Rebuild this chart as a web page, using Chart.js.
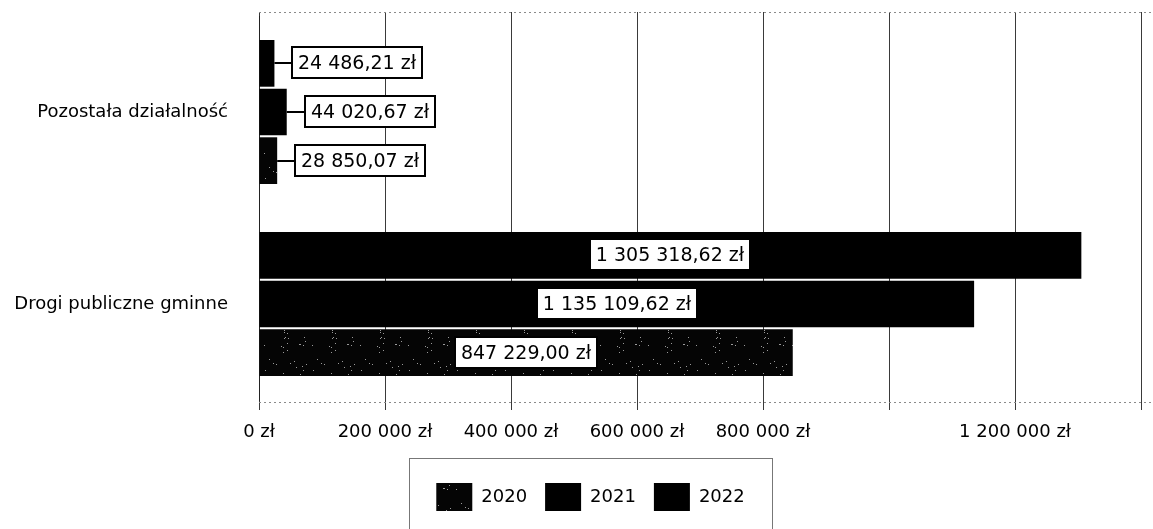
<!DOCTYPE html>
<html>
<head>
<meta charset="utf-8">
<script src="https://cdn.jsdelivr.net/npm/chart.js@4/dist/chart.umd.min.js"></script>
<style>
  html, body { margin: 0; padding: 0; background: #fff; }
  #wrap { width: 1153px; height: 529px; }
</style>
</head>
<body>
<div id="wrap"><canvas id="c" width="1153" height="529"></canvas></div>
<script>
// Wydatki wg rozdziałów (zł)
const categories = ['Pozostała działalność', 'Drogi publiczne gminne'];
const years = ['2022', '2021', '2020'];
const values2022 = [24486.21, 1305318.62];
const values2021 = [44020.67, 1135109.62];
const values2020 = [28850.07, 847229.00];
const xTickLabels = ['0 zł', '200 000 zł', '400 000 zł', '600 000 zł', '800 000 zł', '', '1 200 000 zł', ''];

const FONT = '"DejaVu Sans", Verdana, sans-serif';

function formatPLN(v) {
  const parts = v.toFixed(2).split('.');
  return parts[0].replace(/\B(?=(\d{3})+(?!\d))/g, ' ') + ',' + parts[1] + ' zł';
}

// Dark fill with light flecks used for the 2020 series
function fleckPattern() {
  const c = document.createElement('canvas');
  c.width = 48; c.height = 48;
  const g = c.getContext('2d');
  g.fillStyle = '#050505';
  g.fillRect(0, 0, 48, 48);
  let s = 12345;
  const next = () => { s = (s * 16807) % 2147483647; return s / 2147483647; };
  g.fillStyle = '#9a9a9a';
  for (let k = 0; k < 30; k++) {
    g.fillRect(Math.floor(next() * 48), Math.floor(next() * 48), 1, 1);
  }
  return g.createPattern(c, 'repeat');
}

// Dotted frame above and below the plot, with the grid lines reaching the top one
const frameLines = {
  id: 'frameLines',
  beforeDatasetsDraw(chart) {
    const { ctx, chartArea } = chart;
    const xs = chart.scales.x;
    ctx.save();
    ctx.strokeStyle = '#3a3a3a';
    ctx.lineWidth = 1;
    xs.ticks.forEach((t, i) => {
      const px = Math.round(xs.getPixelForTick(i)) + 0.5;
      ctx.beginPath();
      ctx.moveTo(px, chartArea.top - 4);
      ctx.lineTo(px, chartArea.top);
      ctx.stroke();
    });
    ctx.strokeStyle = '#8a8a8a';
    ctx.setLineDash([2, 3]);
    ctx.beginPath();
    ctx.moveTo(chartArea.left, chartArea.top - 3.5);
    ctx.lineTo(chart.width, chartArea.top - 3.5);
    ctx.moveTo(chartArea.left, chartArea.bottom + 2.5);
    ctx.lineTo(chart.width, chartArea.bottom + 2.5);
    ctx.stroke();
    ctx.restore();
  }
};

const valueLabels = {
  id: 'valueLabels',
  afterDatasetsDraw(chart) {
    const ctx = chart.ctx;
    ctx.save();
    ctx.font = '19px ' + FONT;
    ctx.textBaseline = 'middle';
    ctx.textAlign = 'center';
    chart.data.datasets.forEach((ds, di) => {
      const meta = chart.getDatasetMeta(di);
      meta.data.forEach((bar, i) => {
        const txt = formatPLN(ds.data[i]);
        const tw = ctx.measureText(txt).width;
        const bw = Math.round(tw + 12), bh = 31;
        const barLen = bar.x - bar.base;
        const cy = Math.round(bar.y);
        let bx;
        if (bw < barLen - 10) {
          bx = Math.round((bar.x + bar.base) / 2 - bw / 2);
        } else {
          bx = Math.round(bar.x + 18);
          ctx.strokeStyle = '#000';
          ctx.lineWidth = 2;
          ctx.beginPath();
          ctx.moveTo(bar.x, cy);
          ctx.lineTo(bx, cy);
          ctx.stroke();
        }
        const by = cy - Math.round(bh / 2);
        ctx.fillStyle = '#fff';
        ctx.fillRect(bx, by, bw, bh);
        ctx.strokeStyle = '#000';
        ctx.lineWidth = 2;
        ctx.strokeRect(bx, by, bw, bh);
        ctx.fillStyle = '#000';
        ctx.fillText(txt, bx + bw / 2, cy + 1);
      });
    });
    ctx.restore();
  }
};

// Legend sits a little right of centre, inside a thin frame
const legendFrame = {
  id: 'legendFrame',
  afterLayout(chart) {
    const lg = chart.legend;
    if (!lg) return;
    lg.left += 20;
    lg.right += 20;
  },
  afterDraw(chart) {
    const lg = chart.legend;
    if (!lg || !lg.lineWidths) return;
    const pad = lg.options.labels.padding;
    const rowW = lg.lineWidths[0];
    const itemsLeft = (lg.left + pad + lg.right - rowW) / 2;
    const itemsRight = itemsLeft + rowW - pad;
    const left = Math.round(itemsLeft - 27);
    const right = Math.round(itemsRight + 27);
    const top = Math.round(lg.top - 7);
    const ctx = chart.ctx;
    ctx.save();
    ctx.strokeStyle = '#777';
    ctx.lineWidth = 1;
    ctx.strokeRect(left + 0.5, top + 0.5, right - left, chart.height);
    ctx.restore();
  }
};

Chart.defaults.color = '#000';
Chart.defaults.font.family = FONT;

new Chart(document.getElementById('c'), {
  type: 'bar',
  data: {
    labels: categories,
    datasets: [
      { label: years[0], data: values2022, backgroundColor: '#000' },
      { label: years[1], data: values2021, backgroundColor: '#000' },
      { label: years[2], data: values2020, backgroundColor: fleckPattern() }
    ]
  },
  options: {
    indexAxis: 'y',
    responsive: false,
    animation: false,
    events: [],
    layout: { padding: { top: 16, right: 12, bottom: 8, left: 0 } },
    datasets: { bar: { categoryPercentage: 0.76, barPercentage: 0.96, borderWidth: 0 } },
    scales: {
      x: {
        min: 0, max: 1400000,
        ticks: {
          stepSize: 200000, autoSkip: false, maxRotation: 0, padding: 12,
          font: { size: 18 }, color: '#000',
          callback: (v, i) => xTickLabels[i]
        },
        grid: { color: '#3a3a3a', lineWidth: 1, tickLength: 10, tickColor: '#3a3a3a' },
        border: { display: false },
        afterFit: s => { s.height = 65; }
      },
      y: {
        ticks: { font: { size: 18 }, color: '#000', padding: 0 },
        grid: { display: false, drawTicks: true, tickLength: 31 },
        border: { display: true, color: '#222', width: 1 },
        afterFit: s => { s.width = 259; }
      }
    },
    plugins: {
      tooltip: { enabled: false },
      legend: {
        position: 'bottom',
        reverse: true,
        labels: { boxWidth: 36, boxHeight: 28, padding: 18, font: { size: 18 }, color: '#000' }
      }
    }
  },
  plugins: [frameLines, valueLabels, legendFrame]
});
</script>
</body>
</html>
